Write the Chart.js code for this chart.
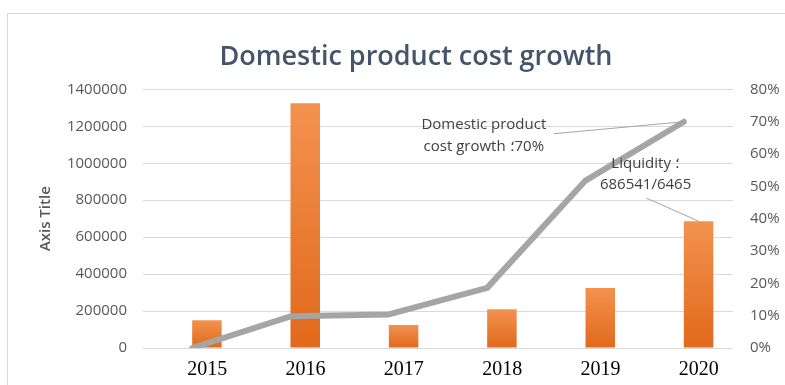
<!DOCTYPE html>
<html>
<head>
<meta charset="utf-8">
<script src="https://cdn.jsdelivr.net/npm/chart.js@4.4.1/dist/chart.umd.min.js"></script>
<style>
  html, body { margin: 0; padding: 0; background: #fff; overflow: hidden; }
  #frame { position: absolute; left: 7px; top: 13px; width: 800px; height: 400px; border: 1px solid #d9d9d9; }
  #wrap { position: absolute; left: 0; top: 0; width: 785px; height: 385px; }
</style>
</head>
<body>
<div id="frame"></div>
<div id="wrap"><canvas id="costChart" width="785" height="385"></canvas></div>
<script>
// Years on the horizontal axis
var years = ['2015', '2016', '2017', '2018', '2019', '2020'];
// Liquidity (bars, left axis)
var liquidity = [150000, 1325000, 125000, 210000, 325000, 686541];
// Domestic product cost growth (line, right axis)
var costGrowth = [0, 0.098, 0.104, 0.186, 0.518, 0.70];
// Axis ticks
var leftTicks = [0, 200000, 400000, 600000, 800000, 1000000, 1200000, 1400000];
var rightTicks = [0, 0.1, 0.2, 0.3, 0.4, 0.5, 0.6, 0.7, 0.8];
var liquidityDivisor = 6465;

var SEP = '\u061B\u200E';
var labelFont = '15px "Open Sans"';

// Orange gradient on every bar, light at the top
function barFill(context) {
    var chart = context.chart;
    if (!chart.chartArea || context.raw == null) return '#ea7a31';
    var y = chart.scales.y;
    var top = y.getPixelForValue(context.raw);
    var base = y.getPixelForValue(0);
    var g = chart.ctx.createLinearGradient(0, top, 0, base);
    g.addColorStop(0, '#f3924f');
    g.addColorStop(1, '#e1691b');
    return g;
}

// Callout labels with leader lines for the 2020 values
var callouts = {
    id: 'callouts',
    afterDatasetsDraw: function (chart) {
        var ctx = chart.ctx;
        var last = years.length - 1;
        var pt = chart.getDatasetMeta(0).data[last];
        var bar = chart.getDatasetMeta(2).data[last];
        ctx.save();
        ctx.strokeStyle = '#9ea6b0';
        ctx.lineWidth = 1;
        ctx.beginPath();
        ctx.moveTo(pt.x - 130, pt.y + 12);
        ctx.lineTo(pt.x, pt.y);
        ctx.moveTo(bar.x - 52, bar.y - 23);
        ctx.lineTo(bar.x, bar.y);
        ctx.stroke();

        ctx.fillStyle = '#404040';
        ctx.font = labelFont;
        ctx.textAlign = 'center';
        ctx.textBaseline = 'middle';
        ctx.fillText('Domestic product', pt.x - 200, pt.y + 3);
        ctx.fillText('cost growth ' + SEP + Math.round(costGrowth[last] * 100) + '%', pt.x - 200, pt.y + 25);
        ctx.fillText('Liquidity ' + SEP, bar.x - 53, bar.y - 57);
        ctx.fillText(liquidity[last] + '/' + liquidityDivisor, bar.x - 53, bar.y - 36);
        ctx.restore();
    }
};

var ctx = document.getElementById('costChart').getContext('2d');

var costChart = new Chart(ctx, {
    data: {
        labels: years,
        datasets: [{
            type: 'line',
            label: 'Domestic product cost growth',
            data: costGrowth,
            yAxisID: 'y1',
            borderColor: '#a5a5a5',
            borderWidth: 6,
            borderCapStyle: 'round',
            borderJoinStyle: 'round',
            pointRadius: 0,
            tension: 0,
            order: 0
        }, {
            type: 'bar',
            label: '',
            data: [],
            yAxisID: 'y',
            order: 1
        }, {
            type: 'bar',
            label: 'Liquidity',
            data: liquidity,
            yAxisID: 'y',
            backgroundColor: barFill,
            order: 1
        }]
    },
    options: {
        responsive: false,
        animation: false,
        layout: { padding: { left: 37, right: -10, top: 10, bottom: 4 } },
        datasets: { bar: { categoryPercentage: 0.6, barPercentage: 1 } },
        plugins: {
            legend: { display: false },
            tooltip: { enabled: false },
            title: {
                display: true,
                text: 'Domestic product cost growth',
                color: '#44546a',
                font: { family: '"Open Sans"', size: 27, weight: '600' },
                padding: { top: 31, bottom: 16 }
            }
        },
        scales: {
            x: {
                afterFit: function (axis) { axis.height = 33; },
                grid: { display: false, drawTicks: false },
                border: { display: false },
                ticks: {
                    labelOffset: 15,
                    padding: 10,
                    color: '#000',
                    font: { family: '"Liberation Serif", serif', size: 20 }
                }
            },
            y: {
                position: 'left',
                min: 0,
                max: 1400000,
                afterBuildTicks: function (axis) {
                    axis.ticks = leftTicks.map(function (v) { return { value: v }; });
                },
                afterFit: function (axis) { axis.width = 106; },
                grid: { color: '#d9d9d9', drawTicks: false },
                border: { display: false },
                ticks: {
                    padding: 16,
                    color: '#595959',
                    font: { family: '"Open Sans"', size: 15 },
                    callback: function (v) { return String(v); }
                },
                title: {
                    display: true,
                    text: 'Axis Title',
                    color: '#595959',
                    font: { family: '"Open Sans"', size: 15, weight: '600' },
                    padding: 0
                }
            },
            y1: {
                position: 'right',
                min: 0,
                max: 0.8,
                afterBuildTicks: function (axis) {
                    axis.ticks = rightTicks.map(function (v) { return { value: v }; });
                },
                afterFit: function (axis) { axis.width = 62; },
                grid: { display: false, drawTicks: false },
                border: { display: false },
                ticks: {
                    padding: 17,
                    color: '#595959',
                    font: { family: '"Open Sans"', size: 15 },
                    callback: function (v) { return Math.round(v * 100) + '%'; }
                }
            }
        }
    },
    plugins: [callouts]
});
</script>
</body>
</html>
